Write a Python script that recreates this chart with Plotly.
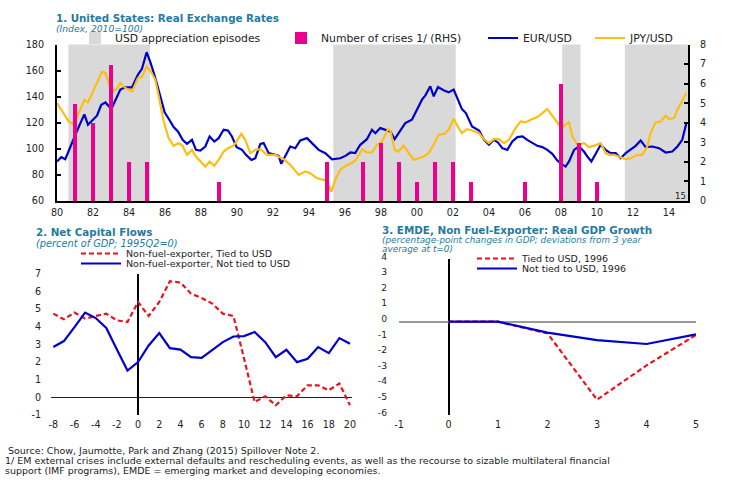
import plotly.graph_objects as go

W, H = 729, 501
FONT = "DejaVu Sans"
TEAL = "#237BA0"

# ---------------- Panel 1 data ----------------
episode_start = [1980.63, 1995.35, 2008.07, 2011.55]
episode_end = [1985.17, 2002.15, 2009.09, 2015.06]

crisis_years = [1981, 1982, 1983, 1984, 1985, 1989, 1995, 1997, 1998, 1999,
                2000, 2001, 2002, 2003, 2006, 2008, 2009, 2010]
crisis_counts = [5, 4, 7, 2, 2, 1, 2, 2, 3, 2, 1, 2, 2, 1, 1, 6, 3, 1]

eur_x = [1980.00, 1980.24, 1980.46, 1980.74, 1981.02, 1981.30, 1981.52, 1981.72, 1981.98, 1982.22,
         1982.46, 1982.69, 1983.02, 1983.28, 1983.52, 1983.80, 1984.17, 1984.50, 1984.72, 1984.98,
         1985.20, 1985.46, 1985.74, 1985.98, 1986.24, 1986.48, 1986.72, 1986.98, 1987.22, 1987.50,
         1987.72, 1987.96, 1988.24, 1988.48, 1988.74, 1988.98, 1989.26, 1989.50, 1989.72, 1989.98,
         1990.28, 1990.50, 1990.80, 1991.02, 1991.30, 1991.48, 1991.67, 1991.76, 1992.13, 1992.32,
         1992.46, 1992.69, 1992.96, 1993.24, 1993.52, 1993.89, 1994.17, 1994.54, 1994.91, 1995.28,
         1995.74, 1996.02, 1996.30, 1996.57, 1996.85, 1997.22, 1997.50, 1997.69, 1997.96, 1998.24,
         1998.52, 1998.76, 1998.98, 1999.35, 1999.72, 1999.91, 2000.28, 2000.46, 2000.74, 2000.93,
         2001.17, 2001.48, 2001.76, 2002.04, 2002.22, 2002.50, 2002.72, 2003.06, 2003.45, 2003.73,
         2004.00, 2004.28, 2004.50, 2004.74, 2005.02, 2005.30, 2005.58, 2005.86, 2006.13, 2006.41,
         2006.69, 2006.97, 2007.24, 2007.52, 2007.80, 2008.02, 2008.26, 2008.45, 2008.73, 2009.00,
         2009.28, 2009.47, 2009.69, 2009.93, 2010.21, 2010.48, 2010.76, 2011.04, 2011.32, 2011.60,
         2011.87, 2012.15, 2012.43, 2012.71, 2013.08, 2013.45, 2013.82, 2014.19, 2014.47, 2014.74,
         2014.97]
eur_y = [90.3, 93.6, 92.0, 101.8, 110.8, 119.7, 126.4, 118.5, 122.3, 125.4,
         133.8, 135.6, 130.5, 137.7, 145.4, 147.2, 147.2, 156.9, 161.3, 174.1,
         165.9, 154.4, 140.3, 128.0, 122.3, 116.7, 113.3, 106.9, 103.8, 106.9,
         99.2, 98.7, 101.8, 109.5, 105.6, 108.2, 114.6, 114.1, 109.5, 101.3,
         99.2, 95.4, 91.5, 92.8, 103.8, 104.4, 99.2, 96.7, 95.4, 94.6,
         88.5, 94.1, 101.8, 100.5, 106.4, 108.2, 104.4, 99.2, 96.7, 92.0,
         92.8, 94.6, 97.2, 96.7, 103.1, 107.4, 114.6, 112.0, 115.9, 114.6,
         113.3, 107.4, 112.0, 119.7, 122.3, 127.4, 137.7, 140.8, 148.0, 140.3,
         147.4, 144.9, 143.3, 145.4, 139.0, 130.5, 127.4, 117.2, 114.1, 106.9,
         103.1, 106.9, 104.9, 100.5, 99.2, 105.6, 109.0, 109.5, 106.9, 104.4,
         102.3, 101.3, 99.2, 96.2, 91.0, 88.5, 86.4, 90.3, 99.2, 101.8,
         97.9, 94.1, 90.3, 96.2, 103.1, 99.2, 96.7, 96.7, 92.8, 96.7,
         99.7, 102.3, 106.4, 101.3, 101.8, 100.5, 97.2, 97.9, 101.8, 106.9,
         119.7]

jpy_x = [1980.00, 1980.28, 1980.65, 1980.93, 1981.17, 1981.52, 1981.72, 1981.98, 1982.22, 1982.50,
         1982.69, 1983.02, 1983.28, 1983.52, 1983.80, 1984.17, 1984.50, 1984.72, 1984.98, 1985.20,
         1985.46, 1985.69, 1985.93, 1986.20, 1986.48, 1986.76, 1986.98, 1987.22, 1987.50, 1987.72,
         1987.96, 1988.24, 1988.48, 1988.74, 1988.98, 1989.26, 1989.50, 1989.81, 1990.24, 1990.46,
         1990.74, 1991.02, 1991.30, 1991.67, 1992.13, 1992.59, 1992.96, 1993.43, 1993.80, 1994.07,
         1994.45, 1994.82, 1995.00, 1995.24, 1995.50, 1995.74, 1996.02, 1996.30, 1996.61, 1996.95,
         1997.22, 1997.50, 1997.78, 1998.06, 1998.39, 1998.52, 1998.76, 1998.98, 1999.26, 1999.54,
         1999.82, 2000.09, 2000.37, 2000.65, 2000.93, 2001.20, 2001.54, 2001.76, 2002.04, 2002.32,
         2002.50, 2002.78, 2003.06, 2003.45, 2003.73, 2004.00, 2004.28, 2004.56, 2004.84, 2005.11,
         2005.48, 2005.76, 2006.04, 2006.32, 2006.69, 2006.97, 2007.24, 2007.52, 2007.80, 2008.02,
         2008.26, 2008.45, 2008.63, 2008.91, 2009.28, 2009.56, 2009.84, 2010.21, 2010.48, 2010.67,
         2010.95, 2011.32, 2011.60, 2011.87, 2012.24, 2012.52, 2012.80, 2012.98, 2013.26, 2013.54,
         2013.82, 2014.00, 2014.28, 2014.47, 2014.74, 2014.97]
jpy_y = [135.1, 128.7, 121.0, 118.5, 126.2, 137.7, 135.6, 142.8, 150.5, 159.0,
         158.2, 144.1, 145.4, 150.5, 146.7, 144.1, 154.4, 155.1, 163.3, 159.5,
         153.1, 137.7, 121.0, 108.2, 102.3, 104.4, 102.3, 95.4, 99.2, 94.1,
         90.3, 86.4, 90.3, 86.9, 91.5, 97.9, 100.5, 102.3, 111.5, 106.9,
         96.7, 99.2, 99.7, 95.4, 95.4, 92.0, 87.7, 80.0, 82.6, 81.3,
         77.4, 76.2, 74.9, 67.2, 77.4, 83.8, 86.9, 88.5, 91.5, 99.7,
         97.2, 97.2, 103.1, 105.6, 115.1, 114.1, 99.2, 97.9, 102.3, 96.7,
         91.5, 92.8, 94.1, 96.7, 103.1, 110.8, 111.5, 114.6, 123.1, 115.9,
         112.0, 115.1, 114.1, 112.0, 107.4, 104.4, 107.4, 107.4, 104.4, 106.9,
         115.9, 121.0, 120.3, 122.3, 124.4, 127.4, 130.5, 125.4, 119.7, 115.9,
         118.5, 120.3, 109.5, 103.1, 104.4, 101.3, 102.3, 104.4, 96.7, 95.4,
         95.4, 93.6, 92.0, 92.8, 95.4, 95.4, 101.8, 112.0, 120.3, 121.0,
         125.4, 122.8, 123.6, 130.0, 136.4, 142.8]

year_ticks = list(range(1980, 2015, 2))
year_labels = ["80", "82", "84", "86", "88", "90", "92", "94", "96", "98",
               "00", "02", "04", "06", "08", "10", "12", "14"]

# ---------------- Panel 2 data ----------------
t2 = list(range(-8, 21))
tied2 = [4.73, 4.41, 4.79, 4.45, 4.60, 4.73, 4.35, 4.26, 5.39, 4.60,
         5.39, 6.56, 6.49, 5.86, 5.62, 5.30, 4.73, 4.60, 2.20, -0.27,
         0.06, -0.45, 0.11, 0.06, 0.68, 0.68, 0.40, 0.78, -0.45]
nottied2 = [2.84, 3.18, 3.97, 4.79, 4.48, 3.92, 2.70, 1.51, 1.99, 2.93,
            3.63, 2.78, 2.70, 2.27, 2.23, 2.70, 3.12, 3.44, 3.46, 3.69,
            3.12, 2.27, 2.69, 1.99, 2.18, 2.84, 2.50, 3.35, 3.03]
p2_xticks = list(range(-8, 21, 2))
p2_yticks = list(range(-1, 8))

# ---------------- Panel 3 data ----------------
t3 = [0, 1, 2, 3, 4, 5]
tied3 = [0.0, 0.0, -0.75, -5.0, -2.8, -0.85]
nottied3 = [0.0, 0.0, -0.70, -1.18, -1.43, -0.81]
p3_xticks = list(range(-1, 6))
p3_yticks = list(range(-6, 5))


def lab(vals):
    return [str(v) for v in vals]  # plain hyphen minus, as in the reference


def xd(a, b):
    return [a / W, b / W]


def yd(top, bottom):
    return [1 - bottom / H, 1 - top / H]


def px(x):
    return x / W


def py(y):
    return 1 - y / H


fig = go.Figure()

fig.add_trace(go.Bar(x=crisis_years, y=crisis_counts, width=0.24,
                     marker=dict(color="#EC008C", line=dict(width=0)),
                     name="Number of crises 1/ (RHS)", xaxis="x", yaxis="y2",
                     legend="legend2"))
fig.add_trace(go.Scatter(x=eur_x, y=eur_y, mode="lines", name="EUR/USD",
                         line=dict(color="#0000CC", width=2.2), xaxis="x", yaxis="y",
                         legend="legend3"))
fig.add_trace(go.Scatter(x=jpy_x, y=jpy_y, mode="lines", name="JPY/USD",
                         line=dict(color="#FDBE14", width=2.2), xaxis="x", yaxis="y",
                         legend="legend4"))

fig.add_trace(go.Scatter(x=t2, y=tied2, mode="lines", name="Non-fuel-exporter, Tied to USD",
                         line=dict(color="#E8141B", width=2.2, dash="5px,3px"),
                         xaxis="x3", yaxis="y3", legend="legend5"))
fig.add_trace(go.Scatter(x=t2, y=nottied2, mode="lines", name="Non-fuel-exporter, Not tied to USD",
                         line=dict(color="#0000CC", width=2.2),
                         xaxis="x3", yaxis="y3", legend="legend6"))

fig.add_trace(go.Scatter(x=t3, y=tied3, mode="lines", name="Tied to USD, 1996",
                         line=dict(color="#E8141B", width=2.2, dash="5px,3px"),
                         xaxis="x4", yaxis="y4", legend="legend7"))
fig.add_trace(go.Scatter(x=t3, y=nottied3, mode="lines", name="Not tied to USD, 1996",
                         line=dict(color="#0000CC", width=2.2),
                         xaxis="x4", yaxis="y4", legend="legend8"))

shapes = []
for i, (a, b) in enumerate(zip(episode_start, episode_end)):
    s = dict(type="rect", xref="x", yref="y domain", x0=a, x1=b, y0=0, y1=1,
             fillcolor="#D9D9D9", line=dict(width=0), layer="below")
    if i == 0:
        s.update(showlegend=True, name="USD appreciation episodes", legend="legend")
    shapes.append(s)

tickfont = dict(family=FONT, size=9.6, color="#222")
tickfont3 = dict(family=FONT, size=9.2, color="#222")

layout = dict(
    width=W, height=H, margin=dict(l=0, r=0, t=0, b=0, pad=0, autoexpand=False),
    paper_bgcolor="white", plot_bgcolor="rgba(0,0,0,0)",
    font=dict(family=FONT, size=9, color="#222"),
    bargap=0,
    shapes=shapes,
    xaxis=dict(domain=xd(57, 688), range=[1980, 2015.06], anchor="y", automargin=False,
               tickvals=year_ticks, ticktext=year_labels, ticks="",
               showline=True, linecolor="black", linewidth=2, showgrid=False,
               zeroline=False, tickfont=tickfont, ticklabelstandoff=1),
    yaxis=dict(domain=yd(44.5, 201), range=[60, 180], anchor="x", automargin=False,
               tickvals=[60, 80, 100, 120, 140, 160, 180], ticks="inside", ticklen=4,
               tickwidth=1.5, tickcolor="black",
               showline=True, linecolor="black", linewidth=2, showgrid=False,
               zeroline=False, tickfont=tickfont, ticklabelstandoff=9),
    yaxis2=dict(overlaying="y", side="right", range=[0, 8], anchor="x", automargin=False,
                tickvals=[0, 1, 2, 3, 4, 5, 6, 7, 8], ticks="inside", ticklen=4,
                tickwidth=1.5, tickcolor="black",
                showline=True, linecolor="black", linewidth=2, showgrid=False,
                zeroline=False, tickfont=tickfont, ticklabelstandoff=8),
    xaxis3=dict(domain=xd(51.2, 352.1), range=[-8.2, 20.2], anchor="y3", automargin=False,
                tickvals=p2_xticks, ticktext=lab(p2_xticks), ticks="", showline=False,
                showgrid=False, zeroline=True, zerolinecolor="black", zerolinewidth=2,
                tickfont=tickfont, ticklabelstandoff=2),
    yaxis3=dict(domain=yd(273.5, 415), range=[-1, 7], anchor="x3", automargin=False,
                tickvals=p2_yticks, ticktext=lab(p2_yticks), ticks="", showline=False,
                showgrid=False, zeroline=True, zerolinecolor="#222", zerolinewidth=1.2,
                tickfont=tickfont, ticklabelstandoff=9),
    xaxis4=dict(domain=xd(399, 696), range=[-1, 5], anchor="y4", automargin=False,
                tickvals=p3_xticks, ticktext=lab(p3_xticks), ticks="", showline=False,
                showgrid=False, zeroline=True, zerolinecolor="black", zerolinewidth=2,
                tickfont=tickfont, ticklabelstandoff=2),
    yaxis4=dict(domain=yd(259.3, 415.3), range=[-6, 4], anchor="x4", automargin=False,
                tickvals=p3_yticks, ticktext=lab(p3_yticks), ticks="", showline=False,
                showgrid=False, zeroline=True, zerolinecolor="#999999", zerolinewidth=1.5,
                tickfont=tickfont3, ticklabelstandoff=11, ticklabelshift=-3),
)


def leg(xpix, ypix, size=10, itemwidth=30):
    return dict(x=px(xpix), y=py(ypix), xanchor="left", yanchor="middle",
                orientation="h", bgcolor="rgba(0,0,0,0)", borderwidth=0,
                itemwidth=itemwidth, font=dict(family=FONT, size=size, color="#222"),
                tracegroupgap=0)


layout["legend"] = leg(75, 38, 10.8)
layout["legend2"] = leg(281, 38, 10.8)
layout["legend3"] = leg(483, 38, 10.8)
layout["legend4"] = leg(590, 38, 10.8)
layout["legend5"] = leg(76, 253.5, 9.5, 40)
layout["legend6"] = leg(76, 263.5, 9.5, 40)
layout["legend7"] = leg(472, 258.5, 9.5, 40)
layout["legend8"] = leg(472, 268.5, 9.5, 40)

fig.update_layout(**layout)


def note(text, xpix, ypix, size=9, color="#222"):
    fig.add_annotation(text=text, xref="paper", yref="paper", x=px(xpix), y=py(ypix),
                       xanchor="left", yanchor="middle", align="left", showarrow=False,
                       font=dict(family=FONT, size=size, color=color))


note("<b>1. United States: Real Exchange Rates</b>", 54, 18, 10.3, TEAL)
note("<i>(Index, 2010=100)</i>", 54, 28.3, 9.2, TEAL)
note("<b>2. Net Capital Flows</b>", 34, 232.5, 10.3, TEAL)
note("<i>(percent of GDP; 1995Q2=0)</i>", 34, 243.3, 9.8, TEAL)
note("<b>3. EMDE, Non Fuel-Exporter: Real GDP Growth</b>", 380, 229.5, 10.4, TEAL)
note("<i>(percentage-point changes in GDP; deviations from 3 year</i>", 380, 240, 8.9, TEAL)
note("<i>average at t=0)</i>", 380, 249.4, 8.9, TEAL)
note("15", 673, 196, 8.5)
note("Source: Chow, Jaumotte, Park and Zhang (2015) Spillover Note 2.", 6, 450.6, 9.5)
note("1/ EM external crises include external defaults and rescheduling events, as well as the recourse to sizable multilateral financial", 3, 460.7, 9.5)
note("support (IMF programs), EMDE = emerging market and developing economies.", 3, 470.8, 9.5)

fig.write_html("out.html")
